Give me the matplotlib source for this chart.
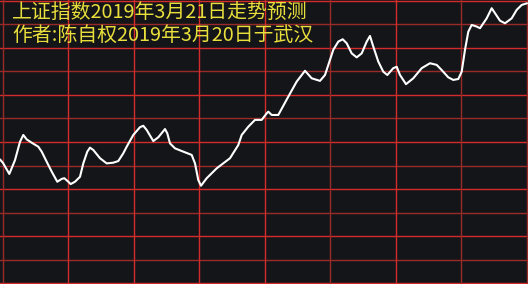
import matplotlib
matplotlib.use("Agg")
import matplotlib.pyplot as plt

# Data: minutes into the trading session (0-240) and index level in grid units
minutes = [-1.37, 0, 2.89, 5.50, 7.79, 9.30, 10.86, 13.15, 16.17, 17.73, 20.02,
           22.31, 24.87, 26.89, 28.08, 29.91, 31.01, 32.98, 35.27, 36.78, 38.61,
           39.85, 41.36, 44.43, 47.50, 50.52, 52.81, 55.10, 56.66, 59.68, 62.75,
           64.26, 65.82, 68.84, 71.13, 74.20, 75.25, 76.49, 78.78, 82.58, 86.43,
           87.94, 89.45, 90.69, 93.30, 97.88, 103.97, 107.77, 109.33, 112.35,
           115.42, 118.49, 120.78, 121.51, 123.07, 126.09, 130.67, 134.52,
           138.32, 141.39, 145.19, 147.48, 151.28, 153.57, 155.59, 157.42,
           159.71, 162.00, 164.29, 166.58, 168.09, 169.60, 171.89, 174.18,
           176.02, 178.76, 180.32, 181.83, 184.58, 187.92, 191.77, 195.57,
           198.64, 200.93, 203.95, 206.24, 208.53, 210.09, 211.60, 213.11,
           214.67, 216.96, 218.47, 221.54, 223.83, 225.34, 227.63, 229.92,
           232.99, 235.28, 237.57, 240.0]
levels = [5.26, 5.11, 4.64, 5.23, 6.01, 6.30, 6.11, 5.97, 5.80, 5.59, 5.16,
          4.74, 4.31, 4.43, 4.46, 4.31, 4.21, 4.31, 4.52, 5.09, 5.59,
          5.76, 5.66, 5.31, 5.09, 5.12, 5.19, 5.52, 5.80, 6.30, 6.63,
          6.69, 6.51, 6.04, 6.20, 6.55, 6.37, 5.94, 5.73, 5.59, 5.45,
          5.09, 4.38, 4.14, 4.46, 4.88, 5.31, 5.87, 6.30, 6.65,
          6.94, 6.94, 7.22, 7.29, 7.15, 7.15, 7.93, 8.57,
          9.03, 8.71, 8.60, 8.85, 9.92, 10.27, 10.37, 10.20,
          9.77, 9.60, 9.77, 10.27, 10.51, 10.06, 9.42, 8.99,
          8.85, 9.14, 9.20, 8.85, 8.46, 8.71, 9.14, 9.35,
          9.28, 9.06, 8.75, 8.64, 8.68, 8.99, 9.92, 10.69,
          10.98, 10.91, 10.84, 11.26, 11.69, 11.48, 11.16, 11.05,
          11.26, 11.62, 11.83, 11.90]

title_lines = ["上证指数2019年3月21日走势预测", "作者:陈自权2019年3月20日于武汉"]

bg = "#141518"
red_bright = "#d42b2b"
red_dark = "#9a2a2a"

fig = plt.figure(figsize=(5.28, 2.84), dpi=100, facecolor=bg)
ax = fig.add_axes([0, 0, 1, 1])
ax.set_facecolor(bg)

# Grid: horizontal every unit, vertical every 30 minutes
for i in range(13):
    ax.axhline(i, color=red_bright if i % 2 == 0 else red_dark, linewidth=1.0, zorder=1)
vcolors = [red_dark, red_bright, red_bright, red_bright, red_bright,
           red_dark, red_bright, red_dark, red_dark]
for k, c in enumerate(vcolors):
    ax.axvline(k * 30, color=c, linewidth=1.0, zorder=1)

ax.plot(minutes, levels, color="white", linewidth=1.5, zorder=3,
        solid_joinstyle="round", solid_capstyle="round")

ax.set_xlim(-1.37, 240.46)
ax.set_ylim(-0.04, 12.04)
ax.axis("off")

for j, line in enumerate(title_lines):
    fig.text(12 / 528, 1 - (13 + j * 22.5) / 284, line, color="#e8de3c",
             fontsize=14.3, family=["Noto Sans CJK SC", "DejaVu Sans"],
             ha="left", va="center", zorder=5)

fig.savefig("out.png", dpi=100, facecolor=bg)
